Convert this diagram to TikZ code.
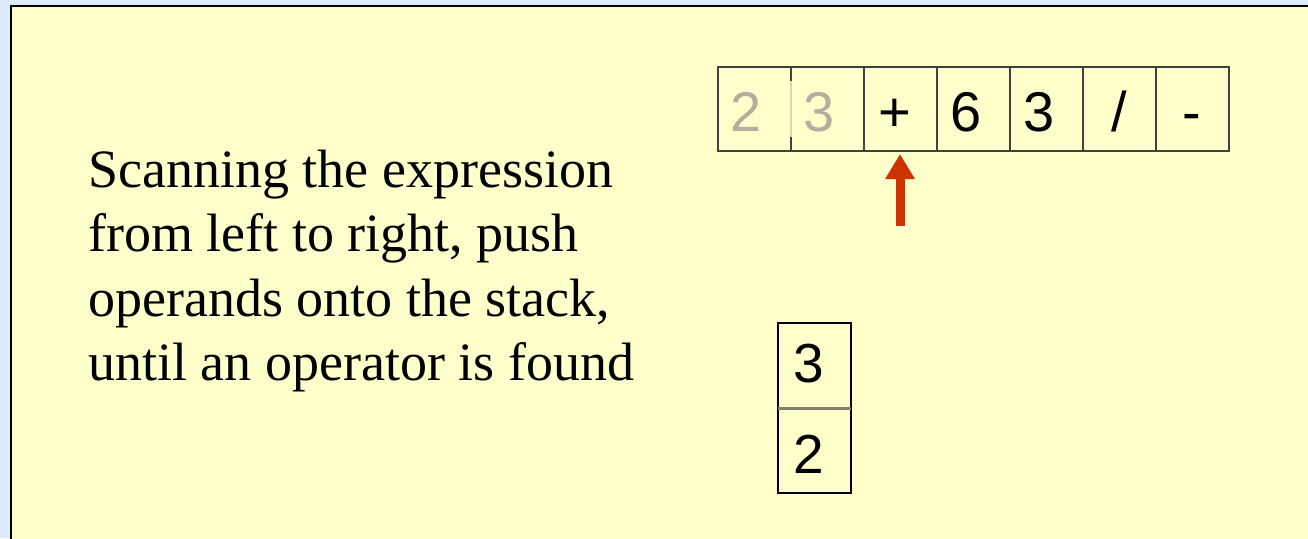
\documentclass[tikz,border=0pt]{standalone}
\usepackage{fontspec}
\setmainfont{Liberation Serif}
\newfontfamily\arialfont{Liberation Sans}
\usetikzlibrary{arrows.meta}
\definecolor{bgblue}{RGB}{221,235,247}
\definecolor{panel}{RGB}{255,255,204}
\definecolor{cellline}{RGB}{64,64,64}
\definecolor{fadedtxt}{RGB}{176,176,156}
\definecolor{faintline}{RGB}{215,215,170}
\definecolor{sepgrey}{RGB}{128,128,104}
\definecolor{arrowred}{RGB}{204,51,0}
\tikzset{
  cellbox/.style={draw=cellline, line width=1.2pt, minimum width=73pt, minimum height=84pt, inner sep=0pt, outer sep=0pt},
  stackbox/.style={draw=black, line width=1.2pt, minimum width=73pt, minimum height=85pt, inner sep=0pt, outer sep=0pt},
  digit/.style={font=\arialfont\fontsize{56}{56}\selectfont, anchor=base, inner sep=0pt},
  sdigit/.style={font=\arialfont\fontsize{55}{55}\selectfont, anchor=base west, inner sep=0pt},
  prose/.style={font=\fontsize{54}{64.5}\selectfont, anchor=base west, inner sep=0pt},
}
\begin{document}
\begin{tikzpicture}[x=1pt,y=-1pt]
\useasboundingbox (0,0) rectangle (1308,538);
\clip (0,0) rectangle (1308,538);
\fill[bgblue] (0,0) rectangle (1308,538);
\filldraw[fill=panel, draw=black, line width=1.5pt] (11,6) rectangle (1330,560);
% expression cells
\node[cellbox] (c1) at (754.5,109) {};
\node[cellbox] (c2) at (827.5,109) {};
\node[cellbox] (c3) at (900.5,109) {};
\node[cellbox] (c4) at (973.5,109) {};
\node[cellbox] (c5) at (1046.5,109) {};
\node[cellbox] (c6) at (1119.5,109) {};
\node[cellbox] (c7) at (1192.5,109) {};
% faint divider between the two scanned cells
\draw[faintline, line width=1.5pt] (c1.north east) -- (c1.south east);
\draw[cellline, line width=1.2pt] (c1.north east) -- ++(0,14);
\draw[cellline, line width=1.2pt] (c1.south east) -- ++(0,-14);
\node[digit, text=fadedtxt] (t1) at (746.5,131) {2};
\node[digit, text=fadedtxt] (t2) at (819.5,131) {3};
\node[digit] (t3) at (894.5,131) {+};
\node[digit] (t4) at (966,131) {6};
\node[digit] (t5) at (1039.5,131) {3};
\node[digit] (t6) at (1119,131) {/};
\node[digit] (t7) at (1191.5,131) {-};
% scan pointer
\coordinate (foot) at (900,226);
\draw[arrowred, line width=9pt, -{Triangle[width=28pt,length=25pt]}] (foot) -- ([yshift=-3pt]c3.south -| foot);
% stack
\node[stackbox] (s1) at (814.5,365.5) {};
\node[stackbox] (s2) at (814.5,450.5) {};
\draw[sepgrey, line width=3pt] (s1.south west) -- (s1.south east);
\node[sdigit] (u1) at (793,382) {3};
\node[sdigit] (u2) at (793,473) {2};
% explanation
\node[prose] (l1) at (88,187) {Scanning the expression};
\node[prose] (l2) at (88,251.5) {from left to right, push};
\node[prose] (l3) at (88,316) {operands onto the stack,};
\node[prose] (l4) at (88,380.5) {until an operator is found};
\end{tikzpicture}
\end{document}
